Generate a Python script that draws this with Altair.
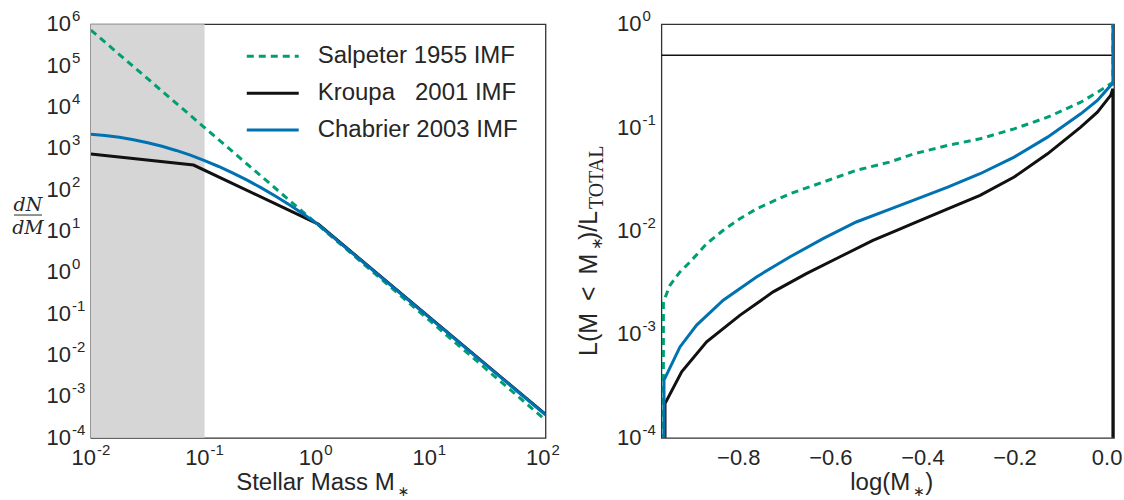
import altair as alt
import pandas as pd

# ---------------- data ----------------
series_names = ["Salpeter 1955 IMF", "Kroupa\u00a0\u00a0\u00a02001 IMF", "Chabrier 2003 IMF"]
series_colors = ["#009E73", "#111111", "#0072B2"]

# Left panel: dN/dM vs stellar mass
salpeter_M = [0.01, 100.0]
salpeter_dNdM = [7.2e5, 2.7e-4]
kroupa_M = [0.01, 0.08, 1.0, 100.0]
kroupa_dNdM = [724.0, 393.0, 14.7, 3.7e-4]
chabrier_M = [0.01, 0.0133, 0.0178, 0.0237, 0.0316, 0.0422, 0.0562, 0.075, 0.1,
              0.133, 0.178, 0.237, 0.316, 0.422, 0.562, 0.75, 1.0, 100.0]
chabrier_dNdM = [2190.0, 2044.0, 1847.0, 1615.0, 1367.0, 1119.0, 887.0, 681.0, 505.0,
                 363.0, 252.0, 169.5, 110.3, 69.5, 42.4, 25.0, 14.26, 3.6e-4]

# Right panel: cumulative luminosity fraction vs log(M)
sal_logM = [-0.9637, -0.9637, -0.9494, -0.9277, -0.906, -0.8698, -0.8337, -0.7977, -0.7615,
            -0.6893, -0.617, -0.5448, -0.4727, -0.4185, -0.3461, -0.2759, -0.2018, -0.1294,
            -0.0573, -0.0211, 0.0077, 0.0126, 0.0126]
sal_frac = [1e-6, 2.06e-3, 2.99e-3, 4.02e-3, 5.01e-3, 7.54e-3, 0.01016, 0.01315, 0.0164,
            0.0229, 0.0297, 0.0386, 0.0464, 0.0559, 0.0673, 0.078, 0.0973, 0.126,
            0.176, 0.220, 0.265, 0.275, 1.0]
chab_logM = [-0.9624, -0.9624, -0.9277, -0.8915, -0.8337, -0.7615, -0.6893, -0.617, -0.5448,
             -0.4727, -0.4185, -0.3461, -0.2759, -0.2018, -0.1294, -0.0573, -0.0211, 0.0077,
             0.0126, 0.0126]
chab_frac = [1e-6, 3.61e-4, 7.57e-4, 1.23e-3, 2.14e-3, 3.6e-3, 5.61e-3, 8.44e-3, 0.01223,
             0.0162, 0.0200, 0.0266, 0.0358, 0.0519, 0.0809, 0.136, 0.183, 0.256,
             0.265, 1.0]
kro_logM = [-0.9602, -0.9602, -0.924, -0.8698, -0.7977, -0.7253, -0.6532, -0.581, -0.5086,
            -0.4581, -0.4185, -0.3461, -0.2759, -0.2018, -0.1294, -0.0573, -0.0211, 0.0077,
            0.0126, 0.0126]
kro_frac = [1e-6, 2.14e-4, 4.34e-4, 8.47e-4, 1.53e-3, 2.58e-3, 3.87e-3, 5.61e-3, 8.13e-3,
            0.0101, 0.0120, 0.0164, 0.0221, 0.0333, 0.0558, 0.101, 0.141, 0.205,
            0.237, 1e-6]
half_light = [0.5]

# shaded region
shade_lo = [0.01]
shade_hi = [0.1]

# tick labels
left_x_ticks = [0.01, 0.1, 1.0, 10.0, 100.0]
left_x_exps = ["-2", "-1", "0", "1", "2"]
left_y_ticks = [1e6, 1e5, 1e4, 1e3, 1e2, 1e1, 1e0, 1e-1, 1e-2, 1e-3, 1e-4]
left_y_exps = ["6", "5", "4", "3", "2", "1", "0", "-1", "-2", "-3", "-4"]
right_x_ticks = [-0.8, -0.6, -0.4, -0.2, 0.0]
right_y_ticks = [1.0, 0.1, 0.01, 0.001, 0.0001]
right_y_exps = ["0", "-1", "-2", "-3", "-4"]

# ---------------- styling ----------------
TEXT = "#262626"
FONT = "Liberation Sans"
LW, RW, H = 455, 453, 414
DASH = [7, 5]

one = pd.DataFrame({"k": [0]})


def txt(text, x, y, size=24, align="left", baseline="alphabetic", angle=0,
        font=FONT, italic=False):
    return alt.Chart(one).mark_text(
        text=text, align=align, baseline=baseline, fontSize=size, font=font,
        color=TEXT, angle=angle, fontStyle="italic" if italic else "normal"
    ).encode(x=alt.value(x), y=alt.value(y))


def line_layer(xs, ys, color, xsc, ysc, dashed=False):
    df = pd.DataFrame({"x": xs, "y": ys, "i": list(range(len(xs)))})
    kw = dict(color=color, strokeWidth=3, clip=True)
    if dashed:
        kw["strokeDash"] = DASH
    return alt.Chart(df).mark_line(**kw).encode(
        x=alt.X("x:Q", scale=xsc, axis=None),
        y=alt.Y("y:Q", scale=ysc, axis=None),
        order=alt.Order("i:Q"),
    )


# ---------------- left panel ----------------
xsL = alt.Scale(type="log", domain=[0.01, 100], nice=False)
ysL = alt.Scale(type="log", domain=[1e-4, 1e6], nice=False)

shade = alt.Chart(pd.DataFrame({"lo": shade_lo, "hi": shade_hi})).mark_rect(
    color="#d6d6d6"
).encode(
    x=alt.X("lo:Q", scale=xsL, axis=None), x2="hi:Q",
    y=alt.value(0), y2=alt.value(H),
)

ytL = pd.DataFrame({"v": left_y_ticks, "e": left_y_exps})
xtL = pd.DataFrame({"v": left_x_ticks, "e": left_x_exps})

ylab10 = alt.Chart(ytL).mark_text(text="10", align="right", baseline="middle",
                                  fontSize=22, font=FONT, color=TEXT).encode(
    x=alt.value(-20), y=alt.Y("v:Q", scale=ysL, axis=None))
ylabE = alt.Chart(ytL).mark_text(align="left", baseline="middle", fontSize=15,
                                 font=FONT, color=TEXT, dy=-8).encode(
    x=alt.value(-19), y=alt.Y("v:Q", scale=ysL, axis=None), text="e:N")
xlab10 = alt.Chart(xtL).mark_text(text="10", align="right", baseline="middle",
                                  fontSize=22, font=FONT, color=TEXT, dx=5).encode(
    x=alt.X("v:Q", scale=xsL, axis=None), y=alt.value(H + 20))
xlabE = alt.Chart(xtL).mark_text(align="left", baseline="middle", fontSize=15,
                                 font=FONT, color=TEXT, dx=6, dy=-8).encode(
    x=alt.X("v:Q", scale=xsL, axis=None), y=alt.value(H + 20), text="e:N")

legend_layers = []
for k, (name, col) in enumerate(zip(series_names, series_colors)):
    yy = 32 + 37 * k
    kw = dict(color=col, strokeWidth=3)
    if k == 0:
        kw["strokeDash"] = DASH
    legend_layers.append(alt.Chart(one).mark_rule(**kw).encode(
        x=alt.value(156), x2=alt.value(208), y=alt.value(yy)))
    legend_layers.append(txt(name, 227, yy, size=24, baseline="middle"))

frac_bar = alt.Chart(one).mark_rule(color=TEXT, strokeWidth=1).encode(
    x=alt.value(-77), x2=alt.value(-49), y=alt.value(191))

left = alt.layer(
    shade,
    line_layer(salpeter_M, salpeter_dNdM, series_colors[0], xsL, ysL, dashed=True),
    line_layer(kroupa_M, kroupa_dNdM, series_colors[1], xsL, ysL),
    line_layer(chabrier_M, chabrier_dNdM, series_colors[2], xsL, ysL),
    ylab10, ylabE, xlab10, xlabE,
    *legend_layers,
    txt("dN", -63, 187, size=19, align="center", font="DejaVu Serif", italic=True),
    frac_bar,
    txt("dM", -63, 210, size=19, align="center", font="DejaVu Serif", italic=True),
    txt("Stellar Mass M", 304, 466, size=24, align="right"),
    txt("\u2217", 307, 472, size=14, font="DejaVu Sans"),
).properties(width=LW, height=H)

# ---------------- right panel ----------------
xsR = alt.Scale(domain=[-0.968, 0.015], nice=False, zero=False)
ysR = alt.Scale(type="log", domain=[1e-4, 1], nice=False)

half = alt.Chart(pd.DataFrame({"y": half_light})).mark_rule(
    color="#111111", strokeWidth=1.5).encode(y=alt.Y("y:Q", scale=ysR, axis=None))

ytR = pd.DataFrame({"v": right_y_ticks, "e": right_y_exps})
xtR = pd.DataFrame({"v": right_x_ticks})

ylab10R = alt.Chart(ytR).mark_text(text="10", align="right", baseline="middle",
                                   fontSize=22, font=FONT, color=TEXT).encode(
    x=alt.value(-20), y=alt.Y("v:Q", scale=ysR, axis=None))
ylabER = alt.Chart(ytR).mark_text(align="left", baseline="middle", fontSize=15,
                                  font=FONT, color=TEXT, dy=-8).encode(
    x=alt.value(-19), y=alt.Y("v:Q", scale=ysR, axis=None), text="e:N")
xlabR = alt.Chart(xtR).mark_text(align="center", baseline="middle", fontSize=22,
                                 font=FONT, color=TEXT).encode(
    x=alt.X("v:Q", scale=xsR, axis=None), y=alt.value(H + 20),
    text=alt.Text("v:Q", format=".1f"))

# rotated y title pieces (reading upward)
ty0 = 332
right = alt.layer(
    half,
    line_layer(sal_logM, sal_frac, series_colors[0], xsR, ysR, dashed=True),
    line_layer(kro_logM, kro_frac, series_colors[1], xsR, ysR),
    line_layer(chab_logM, chab_frac, series_colors[2], xsR, ysR),
    ylab10R, ylabER, xlabR,
    txt("L(M\u00a0\u2009<\u2009\u00a0M", -64, ty0, size=25, angle=270),
    txt("\u2217", -59, ty0 - 106, size=15, angle=270, font="DejaVu Sans"),
    txt(")/L", -64, ty0 - 116, size=25, angle=270),
    txt("TOTAL", -58, ty0 - 147, size=20, angle=270, font="Liberation Serif"),
    txt("log(M", 249, 466, size=24, align="right"),
    txt("\u2217", 252, 472, size=14, font="DejaVu Sans"),
    txt(")", 264, 466, size=24),
).properties(width=RW, height=H)

chart = alt.hconcat(left, right, spacing=116, bounds="flush").properties(
    padding={"left": 11, "top": 8, "right": 0, "bottom": 0}
).configure_view(stroke="#333333", strokeWidth=1.3)

chart.save("out.html", embed_options={"renderer": "svg", "actions": False})
